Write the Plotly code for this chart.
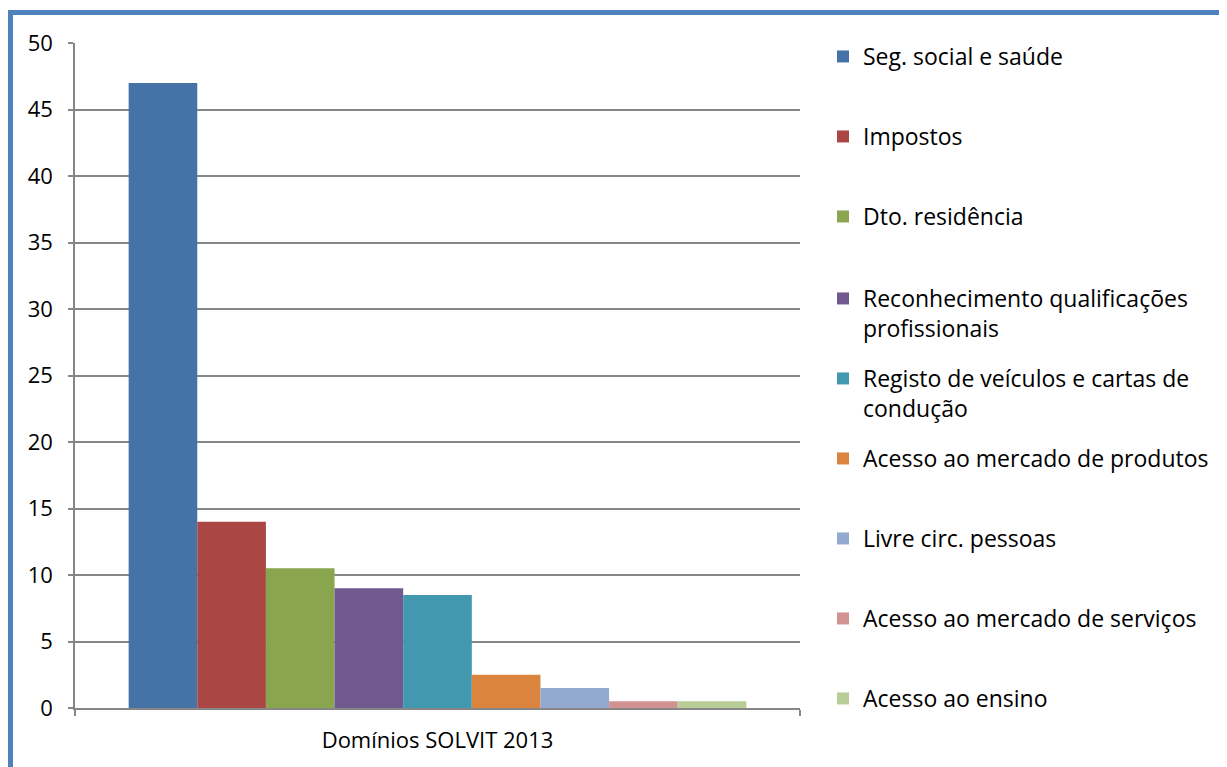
import plotly.graph_objects as go

category = ["Domínios SOLVIT 2013"]
series_names = [
    "Seg. social e saúde",
    "Impostos",
    "Dto. residência",
    "Reconhecimento qualificações<br>profissionais",
    "Registo de veículos e cartas de<br>condução",
    "Acesso ao mercado de produtos",
    "Livre circ. pessoas",
    "Acesso ao mercado de serviços",
    "Acesso ao ensino",
]
series_values = [47, 14, 10.5, 9, 8.5, 2.5, 1.5, 0.5, 0.5]
series_colors = ["#4572A7", "#AA4643", "#89A54E", "#71588F", "#4198AF",
                 "#DB843D", "#93A9CF", "#D19392", "#B9CD96"]
y_ticks = [0, 5, 10, 15, 20, 25, 30, 35, 40, 45, 50]

# page has an 8px body margin; work in window pixels and shift
OFF = 8
W, H = 1227 - OFF, 767 - OFF
L, R, T, B = 75 - OFF, 1227 - 800, 43 - OFF, 767 - 708
pw, ph = W - L - R, H - T - B

def px_to_paper_x(px):
    return (px - OFF - L) / pw

def px_to_paper_y(py):
    return (H - B - (py - OFF)) / ph

FONT = "Open Sans"
fig = go.Figure()
legend_tops = [56, 136, 216, 298, 378, 458, 538, 618, 698]
for i, (name, val, col) in enumerate(zip(series_names, series_values, series_colors)):
    lg = "legend" if i == 0 else f"legend{i+1}"
    fig.add_trace(go.Bar(x=category, y=[val], name=name, marker_color=col,
                         marker_line_width=0, legend=lg))

legend_layout = {}
for i, yc in enumerate(legend_tops):
    key = "legend" if i == 0 else f"legend{i+1}"
    legend_layout[key] = dict(
        x=px_to_paper_x(823), xanchor="left",
        y=px_to_paper_y(yc - 21), yanchor="top",
        font=dict(family=FONT, size=23, color="#000000"),
        bgcolor="rgba(0,0,0,0)", valign="top",
        borderwidth=0,
    )

fig.update_layout(
    width=W, height=H,
    margin=dict(l=L, r=R, t=T, b=B),
    paper_bgcolor="white", plot_bgcolor="white",
    barmode="group", bargap=0.148, bargroupgap=0,
    showlegend=True,
    font=dict(family=FONT, size=21, color="#000000"),
    **legend_layout,
)
fig.update_xaxes(
    type="category", showgrid=False, showline=True, linecolor="#868686", linewidth=1.5,
    ticks="outside", tickson="boundaries", ticklen=6, tickcolor="#868686", tickwidth=1.5,
    tickfont=dict(family=FONT, size=22, color="#000000"), ticklabelstandoff=12,
)
fig.update_yaxes(
    range=[0, 50], tickvals=y_ticks, showgrid=True, gridcolor="#868686", gridwidth=1.5,
    showline=True, linecolor="#868686", linewidth=1.5, zeroline=False,
    ticks="outside", ticklen=5, tickcolor="#868686", tickwidth=1.5,
    tickfont=dict(family=FONT, size=22, color="#000000"), ticklabelstandoff=11,
)
fig.add_shape(type="rect", xref="paper", yref="paper",
              x0=px_to_paper_x(10.5), x1=px_to_paper_x(1260),
              y0=px_to_paper_y(800), y1=px_to_paper_y(12.5),
              line=dict(color="#4F81BD", width=5), fillcolor="rgba(0,0,0,0)")
fig.write_html("out.html")
